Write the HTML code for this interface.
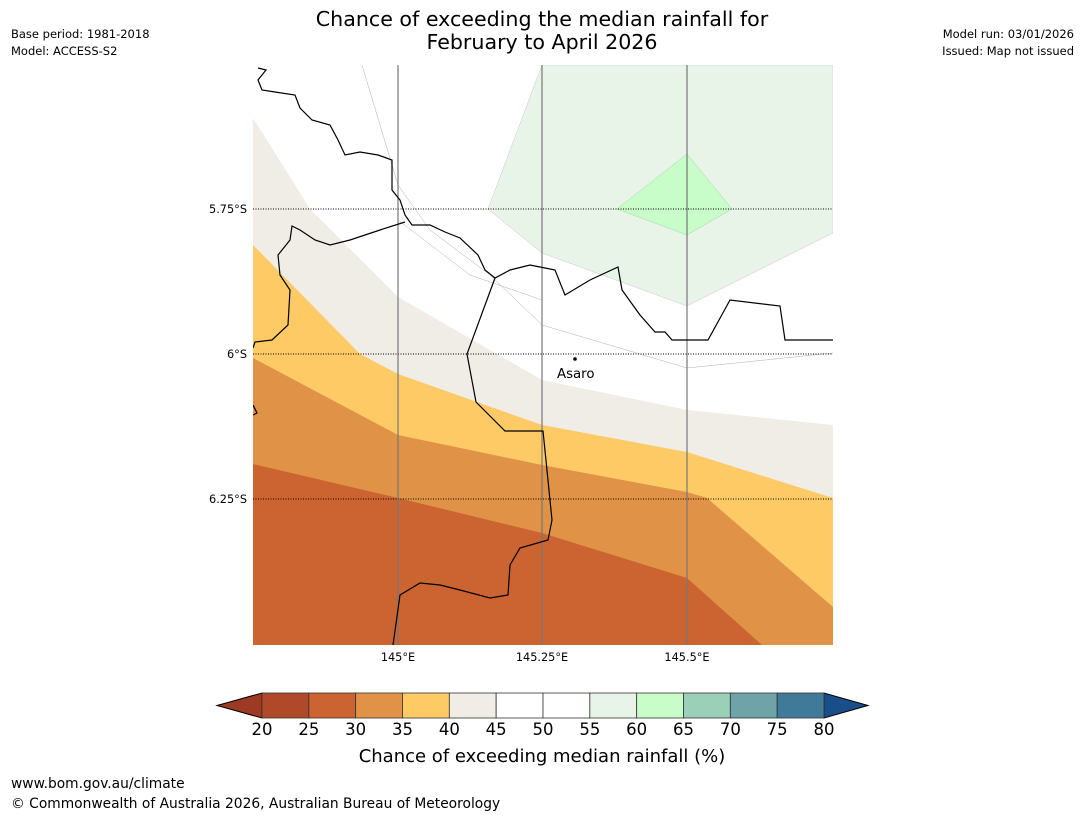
<!DOCTYPE html>
<html><head><meta charset="utf-8"><style>
body{margin:0;background:#fff;width:1085px;height:816px;overflow:hidden;font-family:"Liberation Sans","DejaVu Sans",sans-serif}
svg{position:absolute;left:0;top:0}
</style></head><body>
<svg width="1085" height="816" font-family="DejaVu Sans, Liberation Sans, sans-serif">
<text x="542" y="26" font-size="20.6" text-anchor="middle">Chance of exceeding the median rainfall for</text>
<text x="542" y="49" font-size="20.6" text-anchor="middle">February to April 2026</text>
<text x="11" y="38" font-size="11.5">Base period: 1981-2018</text>
<text x="11" y="55" font-size="11.5">Model: ACCESS-S2</text>
<text x="1074" y="38" font-size="11.5" text-anchor="end">Model run: 03/01/2026</text>
<text x="1074" y="55" font-size="11.5" text-anchor="end">Issued: Map not issued</text>
<defs><clipPath id="mc"><rect x="253" y="65" width="580" height="580"/></clipPath></defs>
<g clip-path="url(#mc)">
<rect x="253" y="65" width="580" height="580" fill="#cb6431"/>
<polygon points="253,65 833,65 833,645 762,645 687,578 542,533 398,498 253,464" fill="#e09347"/>
<polygon points="253,65 833,65 833,607 707,498 687,492 542,465 398,435 253,358" fill="#fdca66"/>
<polygon points="253,65 833,65 833,498 687,452 542,425 398,374 360,354 253,245" fill="#f0ece6"/>
<polygon points="253,65 833,65 833,425 687,410 542,380 398,297 310,209 253,118" fill="#ffffff"/>
<polygon points="488,209 542,65 833,65 833,233 687,306 542,253" fill="#e9f4e9" stroke="#bbb" stroke-width="0.4"/>
<polygon points="617,209 687,154 732,209 687,235" fill="#c8fcc8" stroke="#9c9" stroke-width="0.4"/>
<g stroke="#999" stroke-width="0.4" fill="none">
<polyline points="362,65 398,185 430,230 490,275 542,325 687,368 833,353"/>
<polyline points="398,220 470,275 542,300"/>
</g>
<g stroke="#000" stroke-width="0.9" stroke-dasharray="1,1.5">
<line x1="253" y1="209" x2="833" y2="209"/><line x1="253" y1="354" x2="833" y2="354"/><line x1="253" y1="499" x2="833" y2="499"/>
</g>
<g stroke="#777" stroke-width="1.2">
<line x1="398" y1="65" x2="398" y2="645"/><line x1="542" y1="65" x2="542" y2="645"/><line x1="687" y1="65" x2="687" y2="645"/>
</g>
<g stroke="#000" stroke-width="1.2" fill="none">
<polyline points="258,68 266,70 258,80 262,90 275,92 295,95 300,108 312,120 330,125 338,140 345,155 360,152 378,155 392,160 392,190 400,200 405,215 412,225 430,225 445,232 460,238 478,255 485,270 495,278 510,270 530,265 545,268 555,270 565,295 590,280 618,267 622,290 640,315 655,332 665,332 672,340 708,340 730,300 780,306 785,340 833,340"/>
<polyline points="405,222 380,230 350,240 330,245 315,240 300,230 292,226 290,240 278,255 280,275 290,290 288,325 272,340 255,342 253,348"/>
<polyline points="495,278 467,354 476,402 505,431 543,431 552,520 548,540 520,548 510,565 508,595 490,598 460,590 440,585 420,583 400,595 393,645"/>
<polyline points="253,405 257,413 253,415"/>
</g>
</g>
<circle cx="575" cy="359" r="1.8" fill="#000"/>
<text x="557" y="378" font-size="13.3">Asaro</text>
<g font-size="11.3">
<text x="247" y="213" text-anchor="end">5.75°S</text><text x="247" y="358" text-anchor="end">6°S</text><text x="247" y="503" text-anchor="end">6.25°S</text>
</g>
<g font-size="11.3" text-anchor="middle">
<text x="398" y="661">145°E</text><text x="542" y="661">145.25°E</text><text x="687" y="661">145.5°E</text>
</g>
<g id="cb"></g>
<text x="542" y="762" font-size="18" text-anchor="middle">Chance of exceeding median rainfall (%)</text>
<text x="11" y="788" font-size="13.8">www.bom.gov.au/climate</text>
<text x="11" y="808" font-size="13.8">© Commonwealth of Australia 2026, Australian Bureau of Meteorology</text>
</svg>
<script>
const bins=[20,25,30,35,40,45,50,55,60,65,70,75,80];
const colors=["#b0492a","#cb6431","#e09347","#fdca66","#f0ece6","#ffffff","#ffffff","#e9f4e9","#c8fcc8","#9acfb8","#6ea3a8","#3f7a98"];
const x0=262,x1=824,y0=693,y1=718;
const sx=v=>x0+(v-20)/(60)*(x1-x0);
const g=document.getElementById('cb');
const NS="http://www.w3.org/2000/svg";
function mk(t,a){const e=document.createElementNS(NS,t);for(const k in a)e.setAttribute(k,a[k]);g.appendChild(e);return e;}
const lt=mk('polygon',{points:`217,705.5 ${x0},${y0} ${x0},${y1}`,fill:'#9e3a24',stroke:'#000','stroke-width':1});


const rt=mk('polygon',{points:`868,705.5 ${x1},${y0} ${x1},${y1}`,fill:'#1a4e8a',stroke:'#000','stroke-width':1});


for(let i=0;i<colors.length;i++){
 const r=mk('rect',{x:sx(bins[i]),y:y0,width:sx(bins[i+1])-sx(bins[i]),height:y1-y0,fill:colors[i],stroke:'#333','stroke-width':0.8});
 
 
}
for(const b of bins){
 const t=mk('text',{x:sx(b),y:735,'font-size':16.5,'text-anchor':'middle'});t.textContent=b;
 
 
}
</script>
</body></html>
